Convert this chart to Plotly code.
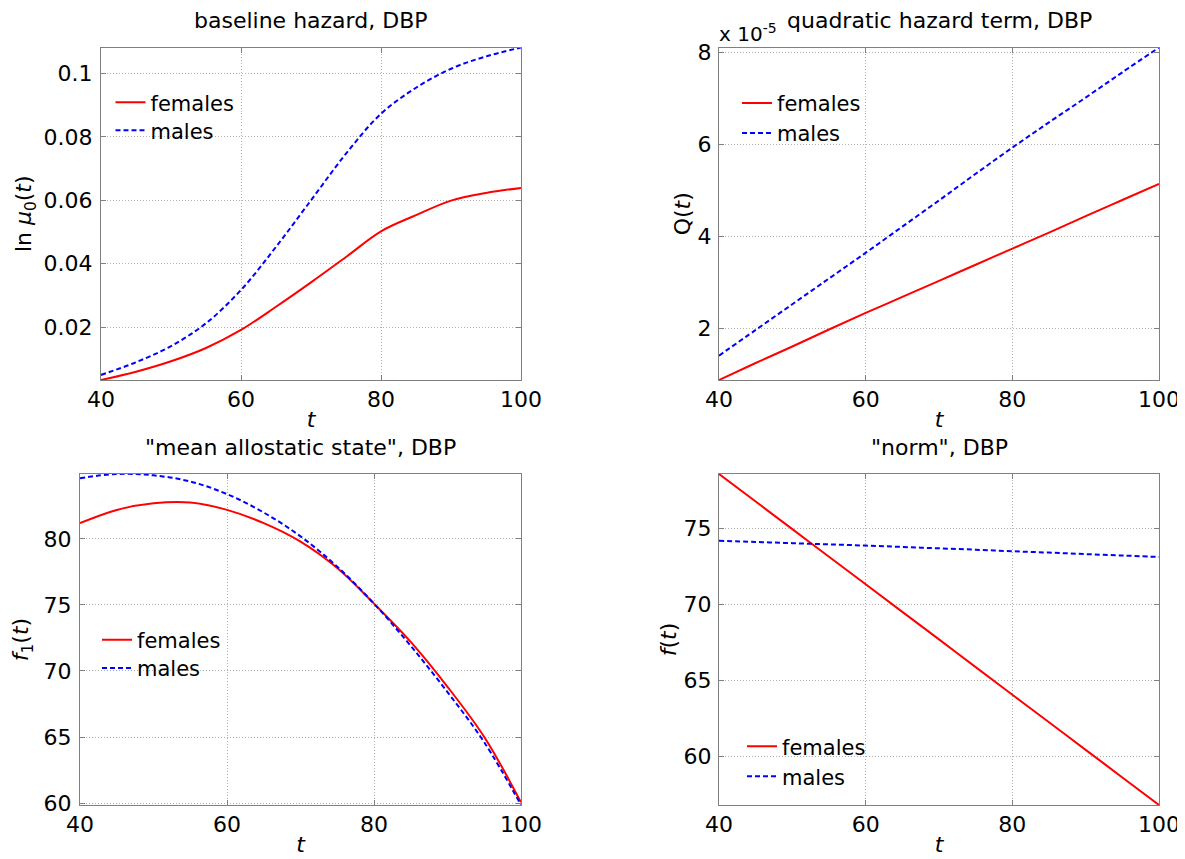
import plotly.graph_objects as go

# The page body has an 8px default margin, so the figure is drawn 8px in
# from the window edge; the figure is sized to fill the visible rest.
PAGE_W, PAGE_H = 1185, 859
OFF = 8
W, H = PAGE_W - OFF, PAGE_H - OFF

# ---------------- data ----------------
t = [40, 45, 50, 55, 60, 65, 70, 75, 80, 85, 90, 95, 100]

# baseline hazard, DBP  (ln mu0(t))
base_f = [0.0033, 0.0059, 0.0092, 0.0134, 0.0191, 0.0264, 0.0341, 0.0421, 0.0502, 0.0553, 0.0599, 0.0623, 0.0639]
base_m = [0.0049, 0.0089, 0.0140, 0.0212, 0.0317, 0.0453, 0.0600, 0.0747, 0.0873, 0.0955, 0.1015, 0.1054, 0.1082]

# quadratic hazard term, DBP  (Q(t))
quad_f = [0.87e-5, 1.24e-5, 1.60e-5, 1.97e-5, 2.33e-5, 2.68e-5, 3.03e-5, 3.38e-5, 3.73e-5, 4.08e-5, 4.44e-5, 4.79e-5, 5.14e-5]
quad_m = [1.40e-5, 1.96e-5, 2.52e-5, 3.08e-5, 3.64e-5, 4.21e-5, 4.78e-5, 5.36e-5, 5.93e-5, 6.48e-5, 7.02e-5, 7.57e-5, 8.11e-5]

# "mean allostatic state", DBP  (f1(t))
mas_f = [81.2, 82.2, 82.7, 82.76, 82.2, 81.2, 79.8, 77.8, 75.1, 72.2, 68.8, 65.0, 60.05]
mas_m = [84.6, 84.92, 84.82, 84.35, 83.4, 82.0, 80.2, 77.9, 75.1, 71.9, 68.4, 64.6, 59.85]

# "norm", DBP  (f(t))
norm_f = [78.55, 76.74, 74.93, 73.12, 71.31, 69.50, 67.69, 65.87, 64.06, 62.25, 60.44, 58.63, 56.82]
norm_m = [74.17, 74.09, 74.01, 73.93, 73.85, 73.76, 73.67, 73.58, 73.48, 73.39, 73.29, 73.20, 73.10]

x_ticks = [40, 60, 80, 100]
base_ticks = [0.02, 0.04, 0.06, 0.08, 0.1]
base_ticktext = ["0.02", "0.04", "0.06", "0.08", "0.1"]
quad_ticks = [2e-5, 4e-5, 6e-5, 8e-5]
quad_ticktext = ["2", "4", "6", "8"]
mas_ticks = [60, 65, 70, 75, 80]
norm_ticks = [60, 65, 70, 75]

titles = ["baseline hazard, DBP", "quadratic hazard term, DBP",
          "\"mean allostatic state\", DBP", "\"norm\", DBP"]
ytitles = ["ln <i>μ</i><sub>0</sub>(<i>t</i>)", "Q(<i>t</i>)",
           "<i>f</i><sub>1</sub>(<i>t</i>)", "<i>f</i>(<i>t</i>)"]
series_names = ["females", "males"]

FONT = "DejaVu Sans, Liberation Sans, Arial, sans-serif"
RED = "#ff0000"
BLUE = "#0000ff"


def px_x(p):
    return (p - OFF) / W


def px_y(p):
    return 1 - (p - OFF) / H


# panel boxes in page pixels: (left, right, top, bottom)
boxes = [(101, 521, 47.5, 380), (719, 1159, 47.5, 380),
         (80, 521, 474, 805), (719, 1159, 474, 805)]
yranges = [[0.0033, 0.1082], [0.87e-5, 8.11e-5], [59.85, 84.92], [56.82, 78.55]]
yticks = [(base_ticks, base_ticktext), (quad_ticks, quad_ticktext),
          (mas_ticks, [str(v) for v in mas_ticks]), (norm_ticks, [str(v) for v in norm_ticks])]
data_pairs = [(base_f, base_m), (quad_f, quad_m), (mas_f, mas_m), (norm_f, norm_m)]
# legend rows: left x, (females row centre y, males row centre y)
legend_x = [110.5, 737, 97, 742]
legend_rows = [(102.7, 130.7), (103.3, 133.3), (640, 668.3), (746.7, 776.7)]
ytitle_standoff = [5, 0, 9, 0]
ylabel_gap = [3, 2, 3, 2]

fig = go.Figure()
layout = dict(
    width=W, height=H,
    margin=dict(l=0, r=0, t=0, b=0),
    paper_bgcolor="white", plot_bgcolor="white",
    font=dict(family=FONT, size=22, color="black"),
    showlegend=True,
    annotations=[],
)

leg_idx = 0
for i in range(4):
    k = "" if i == 0 else str(i + 1)
    xa, ya = "x" + k, "y" + k
    f_vals, m_vals = data_pairs[i]
    styles = [dict(color=RED, width=2, shape="spline"),
              dict(color=BLUE, width=2, dash="5px,3px", shape="spline")]
    for j, vals in enumerate((f_vals, m_vals)):
        leg_idx += 1
        lg = "legend" if leg_idx == 1 else "legend" + str(leg_idx)
        fig.add_trace(go.Scatter(x=t, y=vals, mode="lines", name=series_names[j],
                                 line=styles[j], xaxis=xa, yaxis=ya, legend=lg,
                                 showlegend=True))
        layout[lg] = dict(
            x=px_x(legend_x[i]), y=px_y(legend_rows[i][j]),
            xanchor="left", yanchor="middle", xref="paper", yref="paper",
            bgcolor="rgba(0,0,0,0)", borderwidth=0, visible=True,
            font=dict(size=21, family=FONT, color="black"),
            itemwidth=30,
        )
    l, r, tp, b = boxes[i]
    axis_common = dict(
        showline=True, linecolor="#808080", linewidth=1, mirror="ticks",
        ticks="inside", ticklen=5, tickcolor="#808080", tickwidth=1,
        showgrid=True, gridcolor="#b0b0b0", griddash="1px,2px", gridwidth=1,
        zeroline=False, tickfont=dict(size=22, family=FONT, color="black"),
        automargin=False,
    )
    layout["xaxis" + k] = dict(
        axis_common, domain=[px_x(l), px_x(r)], range=[40, 100],
        tickvals=x_ticks, anchor=ya, ticklabeloverflow="allow",
        title=dict(text="<i>t</i>", font=dict(size=22, family=FONT), standoff=0),
    )
    tv, tt = yticks[i]
    layout["yaxis" + k] = dict(
        axis_common, domain=[px_y(b), px_y(tp)], range=yranges[i],
        tickvals=tv, ticktext=tt, anchor=xa, ticklabelstandoff=ylabel_gap[i],
        title=dict(text=ytitles[i], font=dict(size=22, family=FONT),
                   standoff=ytitle_standoff[i]),
    )
    layout["annotations"].append(dict(
        text=titles[i], x=px_x((l + r) / 2), y=px_y(20 if i < 2 else 448),
        xref="paper", yref="paper", xanchor="center", yanchor="middle",
        showarrow=False, font=dict(size=22, family=FONT, color="black"),
    ))

layout["annotations"].append(dict(
    text="x 10<sup>-5</sup>", x=px_x(717), y=px_y(33), xref="paper", yref="paper",
    xanchor="left", yanchor="middle", showarrow=False,
    font=dict(size=20, family=FONT, color="black"),
))

fig.update_layout(**layout)
fig.write_html("out.html")
